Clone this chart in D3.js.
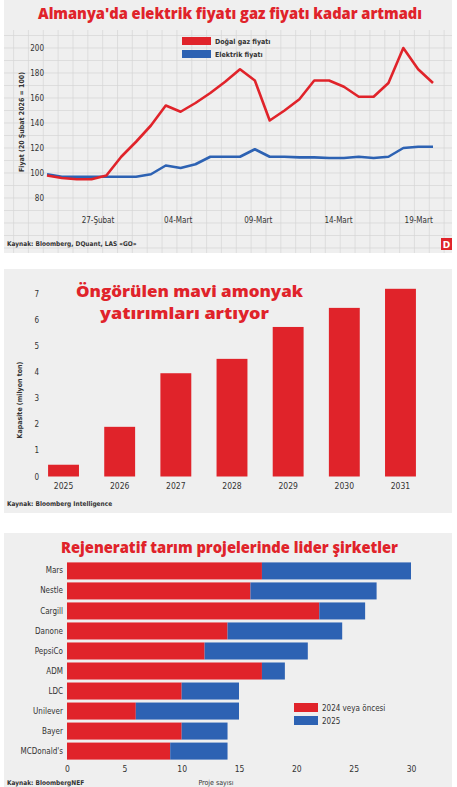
<!DOCTYPE html>
<html>
<head>
<meta charset="utf-8">
<script src="https://cdn.jsdelivr.net/npm/d3@7"></script>
<style>
  body { margin: 0; background: #fff; }
  svg { display: block; }
  .small { font-family: "Liberation Sans Narrow", "DejaVu Sans Condensed", sans-serif; fill: #333; }
  .title { font-family: "Open Sans", "DejaVu Sans", sans-serif; font-weight: 800; fill: #e0232a; }
</style>
</head>
<body>
<svg id="drawing_region" width="457" height="787"></svg>
<script>
// ---- chart 1: gas vs electricity price index
var dayIndex = d3.range(0, 27);
var gasPrice = [98, 96, 95, 95, 98, 113, 125, 138, 154, 149, 156, 164, 173, 183, 174, 142,
                150, 159, 174, 174, 169, 161, 161, 172, 200, 183, 172];
var elecPrice = [99, 97, 97, 97, 97, 97, 97, 99, 106, 104, 107, 113, 113, 113, 119, 113,
                 113, 112.5, 112.5, 112, 112, 113, 112, 113, 120, 121, 121];
var dateTickPos = [3.4, 8.8, 14.2, 19.6, 25];
var dateTickLabels = ["27-Şubat", "04-Mart", "09-Mart", "14-Mart", "19-Mart"];
var priceTicks = [80, 100, 120, 140, 160, 180, 200];

// ---- chart 2: blue ammonia capacity
var years = ["2025", "2026", "2027", "2028", "2029", "2030", "2031"];
var capacity = [0.45, 1.9, 3.95, 4.5, 5.72, 6.45, 7.18];
var capacityTicks = [0, 1, 2, 3, 4, 5, 6, 7];

// ---- chart 3: regenerative agriculture projects
var companies = ["Mars", "Nestle", "Cargill", "Danone", "PepsiCo", "ADM", "LDC", "Unilever", "Bayer", "MCDonald's"];
var projectsBefore = [17, 16, 22, 14, 12, 17, 10, 6, 10, 9];
var projects2025 = [13, 11, 4, 10, 9, 2, 5, 9, 4, 5];
var projectTicks = [0, 5, 10, 15, 20, 25, 30];

var red = "#e0232a";
var blue = "#2d62b3";
var panelFill = "#efefef";

var svg = d3.select('#drawing_region');

// =========== chart 1 ===========
var c1 = svg.append('g');
c1.append('rect').attr('x', 4).attr('y', 0).attr('width', 448).attr('height', 253).attr('fill', panelFill);

const x1 = d3.scaleLinear().domain([0, 26]).range([47, 433]);
const y1 = d3.scaleLinear().domain([80, 200]).range([198, 48]);

// background grid
var grid = c1.append('g').attr('stroke', '#d6d6d6').attr('stroke-width', 0.7);
grid.selectAll('line.h')
    .data(d3.range(40, 220, 10))
    .join('line')
    .attr('class', 'h')
    .attr('x1', 4).attr('x2', 452)
    .attr('y1', d => y1(d)).attr('y2', d => y1(d))
    .attr('display', d => (y1(d) < 30 || y1(d) > 253) ? 'none' : null);
grid.selectAll('line.v')
    .data(d3.range(-3, 29))
    .join('line')
    .attr('class', 'v')
    .attr('x1', d => x1(d - 0.25)).attr('x2', d => x1(d - 0.25))
    .attr('y1', 30).attr('y2', 253)
    .attr('display', d => (x1(d - 0.25) < 4 || x1(d - 0.25) > 452) ? 'none' : null);

c1.append('text').attr('class', 'title')
    .attr('x', 230).attr('y', 19).attr('text-anchor', 'middle')
    .attr('font-size', 16).attr('textLength', 384).attr('lengthAdjust', 'spacingAndGlyphs')
    .text("Almanya'da elektrik fiyatı gaz fiyatı kadar artmadı");

const yaxis1 = c1.append('g')
    .attr('transform', 'translate(44, 0)')
    .call(d3.axisLeft(y1).tickValues(priceTicks).tickSize(0).tickPadding(0));
yaxis1.select('.domain').remove();
yaxis1.selectAll('text').attr('class', 'small').attr('font-size', 8);

const xaxis1 = c1.append('g')
    .attr('transform', 'translate(0, 213)')
    .call(d3.axisBottom(x1).tickValues(dateTickPos).tickSize(0).tickPadding(4)
        .tickFormat((d, i) => dateTickLabels[i]));
xaxis1.select('.domain').remove();
xaxis1.selectAll('text').attr('class', 'small').attr('font-size', 8);

c1.append('text').attr('class', 'small')
    .attr('transform', 'translate(24, 122) rotate(-90)')
    .attr('text-anchor', 'middle').attr('font-size', 7).attr('font-weight', 'bold')
    .text("Fiyat (20 Şubat 2026 = 100)");

var line1 = d3.line().x((d, i) => x1(dayIndex[i])).y(d => y1(d));
c1.append('path').datum(elecPrice)
    .attr('d', line1).attr('fill', 'none').attr('stroke', blue).attr('stroke-width', 2.6)
    .attr('stroke-linejoin', 'round');
c1.append('path').datum(gasPrice)
    .attr('d', line1).attr('fill', 'none').attr('stroke', red).attr('stroke-width', 2.6)
    .attr('stroke-linejoin', 'round');

var legend1 = [["Doğal gaz fiyatı", red], ["Elektrik fiyatı", blue]];
legend1.forEach((d, i) => {
    c1.append('rect').attr('x', 182).attr('y', 37 + i * 13).attr('width', 29).attr('height', 8).attr('fill', d[1]);
    c1.append('text').attr('class', 'small').attr('x', 215).attr('y', 44 + i * 13)
        .attr('font-size', 7).attr('font-weight', 'bold').text(d[0]);
});

c1.append('text').attr('class', 'small').attr('x', 7).attr('y', 246)
    .attr('font-size', 6.5).attr('font-weight', 'bold').attr('fill', '#222')
    .text("Kaynak: Bloomberg, DQuant, LAS «GO»");
c1.append('rect').attr('x', 441).attr('y', 238).attr('width', 11).attr('height', 12).attr('fill', red);
c1.append('text').attr('x', 446.5).attr('y', 248).attr('text-anchor', 'middle')
    .attr('font-family', 'DejaVu Sans, sans-serif').attr('font-weight', 'bold')
    .attr('font-size', 9).attr('fill', '#fff').text("D");

// =========== chart 2 ===========
var c2 = svg.append('g');
c2.append('rect').attr('x', 4).attr('y', 269).attr('width', 448).attr('height', 244).attr('fill', panelFill);

const x2 = d3.scaleBand().domain(years).range([20, 444]).paddingInner(0.45).paddingOuter(0.5);
const y2 = d3.scaleLinear().domain([0, 7]).range([476.5, 293.5]);

c2.selectAll('rect.bar')
    .data(capacity)
    .join('rect')
    .attr('class', 'bar')
    .attr('x', (d, i) => x2(years[i]))
    .attr('y', d => y2(d))
    .attr('width', x2.bandwidth())
    .attr('height', d => y2(0) - y2(d))
    .attr('fill', red);

const yaxis2 = c2.append('g')
    .attr('transform', 'translate(39, 0)')
    .call(d3.axisLeft(y2).tickValues(capacityTicks).tickFormat(d3.format('d')).tickSize(0).tickPadding(0));
yaxis2.select('.domain').remove();
yaxis2.selectAll('text').attr('class', 'small').attr('font-size', 8);

const xaxis2 = c2.append('g')
    .attr('transform', 'translate(0, 477)')
    .call(d3.axisBottom(x2).tickSize(0).tickPadding(6));
xaxis2.select('.domain').remove();
xaxis2.selectAll('text').attr('class', 'small').attr('font-size', 8.5);

c2.append('text').attr('class', 'small')
    .attr('transform', 'translate(22, 400) rotate(-90)')
    .attr('text-anchor', 'middle').attr('font-size', 7).attr('font-weight', 'bold')
    .text("Kapasite (milyon ton)");

c2.append('text').attr('class', 'title')
    .attr('x', 189.5).attr('y', 297).attr('text-anchor', 'middle')
    .attr('font-size', 16).attr('textLength', 227).attr('lengthAdjust', 'spacingAndGlyphs')
    .text("Öngörülen mavi amonyak");
c2.append('text').attr('class', 'title')
    .attr('x', 184.5).attr('y', 319).attr('text-anchor', 'middle')
    .attr('font-size', 16).attr('textLength', 169).attr('lengthAdjust', 'spacingAndGlyphs')
    .text("yatırımları artıyor");

c2.append('text').attr('class', 'small').attr('x', 7).attr('y', 506)
    .attr('font-size', 6.5).attr('font-weight', 'bold').attr('fill', '#222')
    .text("Kaynak: Bloomberg Intelligence");

// =========== chart 3 ===========
var c3 = svg.append('g');
c3.append('rect').attr('x', 4).attr('y', 533).attr('width', 448).attr('height', 260).attr('fill', panelFill);

c3.append('text').attr('class', 'title')
    .attr('x', 229.5).attr('y', 553).attr('text-anchor', 'middle')
    .attr('font-size', 16).attr('textLength', 337).attr('lengthAdjust', 'spacingAndGlyphs')
    .text("Rejeneratif tarım projelerinde lider şirketler");

const x3 = d3.scaleLinear().domain([0, 30]).range([67, 411]);
const y3 = d3.scaleBand().domain(companies).range([561, 761]).paddingInner(0.15).paddingOuter(0.07);

var table3 = companies.map((c, i) => ({ company: c, before: projectsBefore[i], y2025: projects2025[i] }));
var stacked = d3.stack().keys(["before", "y2025"])(table3);
var stackColors = [red, blue];

c3.selectAll('g.layer')
    .data(stacked)
    .join('g')
    .attr('class', 'layer')
    .attr('fill', (d, i) => stackColors[i])
    .selectAll('rect')
    .data(d => d)
    .join('rect')
    .attr('x', d => x3(d[0]))
    .attr('y', d => y3(d.data.company))
    .attr('width', d => x3(d[1]) - x3(d[0]))
    .attr('height', y3.bandwidth());

const yaxis3 = c3.append('g')
    .attr('transform', 'translate(63, 0)')
    .call(d3.axisLeft(y3).tickSize(0).tickPadding(0));
yaxis3.select('.domain').remove();
yaxis3.selectAll('text').attr('class', 'small').attr('font-size', 8);

const xaxis3 = c3.append('g')
    .attr('transform', 'translate(0, 763)')
    .call(d3.axisBottom(x3).tickValues(projectTicks).tickSize(0).tickPadding(3));
xaxis3.select('.domain').remove();
xaxis3.selectAll('text').attr('class', 'small').attr('font-size', 8.5);

var legend3 = [["2024 veya öncesi", red], ["2025", blue]];
legend3.forEach((d, i) => {
    c3.append('rect').attr('x', 294).attr('y', 703 + i * 13).attr('width', 24).attr('height', 9).attr('fill', d[1]);
    c3.append('text').attr('class', 'small').attr('x', 322).attr('y', 710.5 + i * 13)
        .attr('font-size', 8).text(d[0]);
});

c3.append('text').attr('class', 'small').attr('x', 7).attr('y', 784.5)
    .attr('font-size', 6.5).attr('font-weight', 'bold').attr('fill', '#222')
    .text("Kaynak: BloombergNEF");
c3.append('text').attr('class', 'small').attr('x', 216).attr('y', 784.5)
    .attr('text-anchor', 'middle').attr('font-size', 7)
    .text("Proje sayısı");
</script>
</body>
</html>
